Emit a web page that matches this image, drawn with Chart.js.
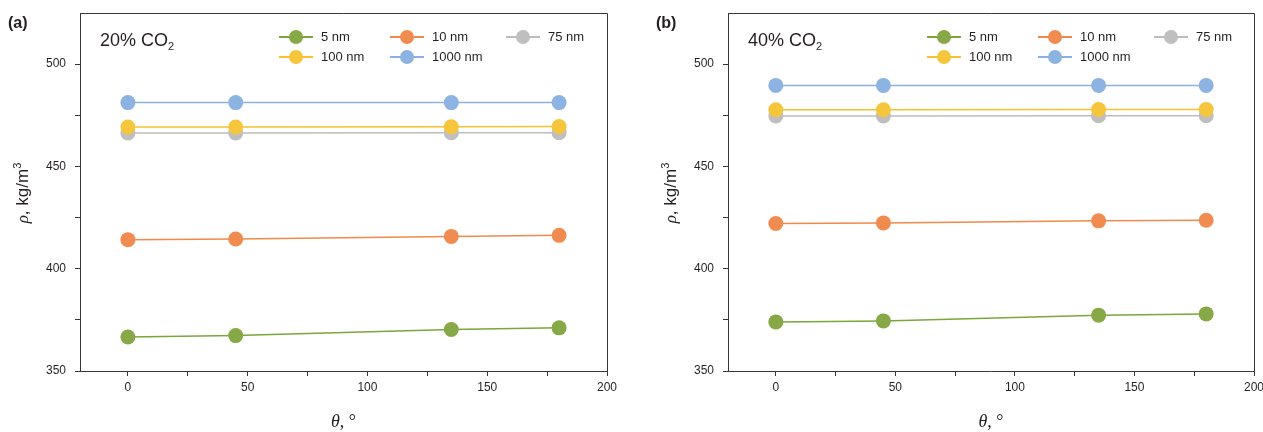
<!DOCTYPE html>
<html>
<head>
<meta charset="utf-8">
<script src="https://cdn.jsdelivr.net/npm/chart.js@4.4.0/dist/chart.umd.min.js"></script>
<style>
  html, body { margin: 0; padding: 0; background: #fff; width: 1263px; height: 432px; overflow: hidden; }
  body { position: relative; font-family: "Liberation Sans", Arial, sans-serif; color: #231f20; }
  .panel { position: absolute; top: 0; height: 432px; }
  canvas { position: absolute; left: 0; top: 0; }
  .tag { position: absolute; font-weight: bold; font-size: 16px; line-height: 1; }
  .note { position: absolute; font-size: 18px; line-height: 1; white-space: nowrap; }
  .note sub { font-size: 11px; vertical-align: -4px; line-height: 0; }
  .leg { position: absolute; font-size: 13px; line-height: 1; white-space: nowrap; }
  .leg .ln { position: absolute; top: -0.75px; height: 1.5px; width: 34px; left: -17px; }
  .leg .dot { position: absolute; width: 14px; height: 14px; border-radius: 50%; left: -7px; top: -7px; }
  .leg .tx { position: absolute; left: 25px; top: -7px; }
  .ytitle { position: absolute; font-size: 17px; white-space: nowrap; transform: translate(-50%, -50%) rotate(-90deg); line-height: 1; }
  .ytitle sup { font-size: 11px; vertical-align: 7px; line-height: 0; }
  .xtitle { position: absolute; font-size: 18px; white-space: nowrap; transform: translate(-50%, -50%); line-height: 1; font-family: "Liberation Serif", "Times New Roman", serif; }
  .greek { font-family: "Liberation Serif", "Times New Roman", serif; font-style: italic; }
</style>
</head>
<body>
<script>
// ---------------- data ----------------
const angles = [0, 45, 135, 180];
const seriesNames = ['5 nm', '10 nm', '75 nm', '100 nm', '1000 nm'];

// panel (a): 20% CO2
const rhoA_5nm    = [366.6, 367.3, 370.3, 371.1];
const rhoA_10nm   = [414.2, 414.5, 415.8, 416.3];
const rhoA_75nm   = [466.4, 466.4, 466.5, 466.5];
const rhoA_100nm  = [469.3, 469.3, 469.4, 469.5];
const rhoA_1000nm = [481.2, 481.2, 481.2, 481.2];

// panel (b): 40% CO2
const rhoB_5nm    = [374.0, 374.5, 377.3, 377.9];
const rhoB_10nm   = [422.1, 422.4, 423.4, 423.7];
const rhoB_75nm   = [474.7, 474.7, 474.8, 474.8];
const rhoB_100nm  = [477.7, 477.7, 477.8, 477.8];
const rhoB_1000nm = [489.6, 489.6, 489.6, 489.6];

// ticks
const xTickValues = [0, 25, 50, 75, 100, 125, 150, 175, 200];
const xTickLabels = ['0', '', '50', '', '100', '', '150', '', '200'];
const yTickValues = [350, 375, 400, 425, 450, 475, 500];
const yTickLabels = ['350', '', '400', '', '450', '', '500'];
const xRange = [-20, 200];
const yRange = [350, 525];

const panelLabels = ['(a)', '(b)'];
const panelNotes = ['20% CO', '40% CO'];

// ---------------- styles ----------------
const colors = ['#86a846', '#f08c50', '#bfbfbf', '#f5c53c', '#8db3e2'];
const lineColors = ['#7aa63a', '#f08a4a', '#bdbdbd', '#f5c230', '#8ab1e0'];

const panels = [
  { left: 0,   width: 625, padLeft: 30, padRight: 18, series: [rhoA_5nm, rhoA_10nm, rhoA_75nm, rhoA_100nm, rhoA_1000nm] },
  { left: 640, width: 640, padLeft: 38, padRight: 26, series: [rhoB_5nm, rhoB_10nm, rhoB_75nm, rhoB_100nm, rhoB_1000nm] }
];

const framePlugin = {
  id: 'frame',
  afterDraw(chart) {
    const a = chart.chartArea, c = chart.ctx;
    c.save();
    c.strokeStyle = '#3a3536';
    c.lineWidth = 1;
    c.beginPath();
    c.moveTo(a.left, a.top + 0.5);
    c.lineTo(a.right + 0.5, a.top + 0.5);
    c.lineTo(a.right + 0.5, a.bottom);
    c.stroke();
    c.restore();
  }
};

panels.forEach((p, pi) => {
  const div = document.createElement('div');
  div.className = 'panel';
  div.style.left = p.left + 'px';
  div.style.width = p.width + 'px';
  document.body.appendChild(div);
  const cv = document.createElement('canvas');
  cv.width = p.width; cv.height = 432;
  cv.style.width = p.width + 'px'; cv.style.height = '432px';
  div.appendChild(cv);

  const datasets = seriesNames.map((name, i) => ({
    label: name,
    data: angles.map((a, k) => ({ x: a, y: p.series[i][k] })),
    borderColor: lineColors[i],
    backgroundColor: colors[i],
    pointBackgroundColor: colors[i],
    pointBorderColor: colors[i],
    pointBorderWidth: 0,
    pointRadius: 7.5,
    borderWidth: 1.5,
    tension: 0,
    order: -i
  }));

  new Chart(cv, {
    type: 'line',
    data: { datasets },
    options: {
      responsive: false,
      animation: false,
      layout: { padding: { left: p.padLeft, right: p.padRight, top: 13, bottom: 0 } },
      plugins: { legend: { display: false }, tooltip: { enabled: false } },
      scales: {
        x: {
          type: 'linear',
          min: xRange[0], max: xRange[1],
          afterBuildTicks: s => { s.ticks = xTickValues.map(v => ({ value: v })); },
          afterFit: s => { s.height = 61; s.paddingLeft = 0; s.paddingRight = 0; },
          ticks: {
            autoSkip: false, maxRotation: 0, padding: 4,
            color: '#231f20', font: { family: 'Liberation Sans', size: 12 },
            callback: v => xTickLabels[xTickValues.indexOf(v)]
          },
          grid: { display: true, drawOnChartArea: false, drawTicks: true, tickLength: 5, tickColor: '#3a3536', tickWidth: 1 },
          border: { display: true, color: '#3a3536', width: 1 }
        },
        y: {
          type: 'linear',
          min: yRange[0], max: yRange[1],
          afterBuildTicks: s => { s.ticks = yTickValues.map(v => ({ value: v })); },
          afterFit: s => { s.width = 50; s.paddingTop = 0; s.paddingBottom = 0; },
          ticks: {
            autoSkip: false, padding: 9,
            color: '#231f20', font: { family: 'Liberation Sans', size: 12 },
            callback: v => yTickLabels[yTickValues.indexOf(v)]
          },
          grid: { display: true, drawOnChartArea: false, drawTicks: true, tickLength: 5, tickColor: '#3a3536', tickWidth: 1 },
          border: { display: true, color: '#3a3536', width: 1 }
        }
      }
    },
    plugins: [framePlugin]
  });

  const areaLeft = p.left + p.padLeft + 50;
  const areaRight = p.left + p.width - p.padRight;

  // panel tag
  const tag = document.createElement('div');
  tag.className = 'tag';
  tag.textContent = panelLabels[pi];
  tag.style.left = (areaLeft - 72) + 'px';
  tag.style.top = '15px';
  document.body.appendChild(tag);

  // note
  const note = document.createElement('div');
  note.className = 'note';
  note.innerHTML = panelNotes[pi] + '<sub>2</sub>';
  note.style.left = (areaLeft + 20) + 'px';
  note.style.top = '31px';
  document.body.appendChild(note);

  // legend
  seriesNames.forEach((name, i) => {
    const row = Math.floor(i / 3), col = i % 3;
    const cx = areaLeft + 216 + col * 111 + (col === 2 ? 5 : 0);
    const cy = 37 + row * 20;
    const it = document.createElement('div');
    it.className = 'leg';
    it.style.left = cx + 'px';
    it.style.top = cy + 'px';
    it.innerHTML = '<span class="ln" style="background:' + lineColors[i] + '"></span>' +
                   '<span class="dot" style="background:' + colors[i] + '"></span>' +
                   '<span class="tx">' + name + '</span>';
    document.body.appendChild(it);
  });

  // axis titles
  const yt = document.createElement('div');
  yt.className = 'ytitle';
  yt.innerHTML = '<span class="greek">ρ</span>, kg/m<sup>3</sup>';
  yt.style.left = (areaLeft - 58) + 'px';
  yt.style.top = '193px';
  document.body.appendChild(yt);

  const xt = document.createElement('div');
  xt.className = 'xtitle';
  xt.innerHTML = '<span class="greek">θ</span>, °';
  xt.style.left = ((areaLeft + Math.min(areaRight, 1254)) / 2) + 'px';
  xt.style.top = '421px';
  document.body.appendChild(xt);
});
</script>
</body>
</html>
